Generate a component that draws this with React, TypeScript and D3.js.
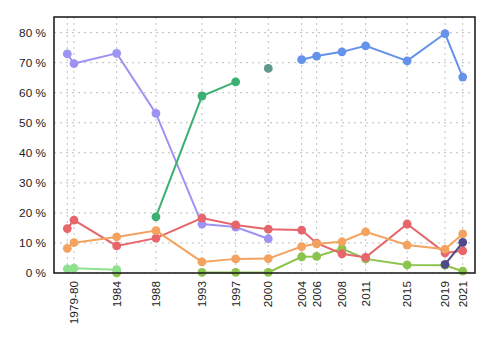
import React from "react";
import * as d3 from "d3";

// Election dates (decimal years) and their tick labels
const dates = [1979.23, 1979.94, 1984.5, 1988.69, 1993.6, 1997.2, 2000.68, 2004.24, 2005.84, 2008.54, 2011.07, 2015.5, 2019.54, 2021.43];
const tickLabels = ["", "1979-80", "1984", "1988", "1993", "1997", "2000", "2004", "2006", "2008", "2011", "2015", "2019", "2021"];

const yTicks = [0, 10, 20, 30, 40, 50, 60, 70, 80];

type V = number | null;
// Series values, aligned with dates (null = no value)
const purple: V[] = [72.9, 69.7, 73.1, 53.1, 16.3, 15.3, 11.4, null, null, null, null, null, null, null];
const green: V[] = [null, null, null, 18.7, 58.9, 63.6, null, null, null, null, null, null, null, null];
const teal: V[] = [null, null, null, null, null, null, 68.1, null, null, null, null, null, null, null];
const blue: V[] = [null, null, null, null, null, null, null, 71.0, 72.2, 73.6, 75.6, 70.6, 79.7, 65.2];
const red: V[] = [14.8, 17.6, 9.0, 11.6, 18.3, 16.0, 14.6, 14.3, 9.9, 6.4, 5.2, 16.3, 6.7, 7.4];
const orange: V[] = [8.2, 10.1, 12.0, 14.1, 3.7, 4.7, 4.8, 8.8, 9.7, 10.4, 13.7, 9.3, 7.9, 13.0];
const lightGreen: V[] = [1.4, 1.6, 1.1, null, null, null, null, null, null, null, null, null, null, null];
const yellowGreen: V[] = [null, null, 0, null, 0.2, 0.2, 0.2, 5.4, 5.5, 8.1, 4.7, 2.7, 2.6, 0.6];
const darkSlate: V[] = [null, null, null, null, null, null, null, null, null, null, null, null, 2.9, 10.2];

const series = [
  { values: purple, color: "#9d93f3" },
  { values: green, color: "#3cb073" },
  { values: teal, color: "#5f9a8e" },
  { values: blue, color: "#6592ea" },
  { values: yellowGreen, color: "#8cc34c" },
  { values: lightGreen, color: "#8fe08f" },
  { values: red, color: "#e6666b" },
  { values: orange, color: "#f3a35f" },
  { values: darkSlate, color: "#4f4a8a" },
];

const W = 500, H = 350;
const L = 54, R = 475, T = 17, B = 273;

export default function App() {
  const x = d3.scaleLinear().domain([1977.81, 2022.74]).range([L, R]);
  const y = d3.scaleLinear().domain([0, 85.2]).range([B, T]);
  const line = d3
    .line<[number, V]>()
    .defined((d) => d[1] !== null)
    .x((d) => x(d[0]))
    .y((d) => y(d[1] as number));

  const font = "'Liberation Sans', Arial, sans-serif";

  return (
    <svg width={W} height={H} style={{ position: "absolute", left: 0, top: 0, background: "#fff" }} fontFamily={font}>
      {/* grid */}
      {yTicks.map((t) => (
        <line key={"gy" + t} x1={L} x2={R} y1={y(t)} y2={y(t)} stroke="#bdbdbd" strokeWidth={1} strokeDasharray="2,4" />
      ))}
      {dates.map((d, i) => (
        <line key={"gx" + i} x1={x(d)} x2={x(d)} y1={T} y2={B} stroke="#bdbdbd" strokeWidth={1} strokeDasharray="2,4" />
      ))}
      {/* series */}
      {series.map((s, si) => {
        const pts: [number, V][] = dates.map((d, i) => [d, s.values[i]]);
        return (
          <g key={"s" + si}>
            <path d={line(pts) || ""} fill="none" stroke={s.color} strokeWidth={2} />
            {pts
              .filter((p) => p[1] !== null)
              .map((p, i) => (
                <circle key={i} cx={x(p[0])} cy={y(p[1] as number)} r={4.4} fill={s.color} />
              ))}
          </g>
        );
      })}
      {/* frame */}
      <rect x={L} y={T} width={R - L} height={B - T} fill="none" stroke="#222" strokeWidth={1.6} />
      {/* y labels */}
      {yTicks.map((t) => (
        <text key={"yl" + t} x={46} y={y(t)} dy="0.35em" textAnchor="end" fontSize={11.8} fill="#222">
          {t} %
        </text>
      ))}
      {/* x labels */}
      {dates.map((d, i) =>
        tickLabels[i] ? (
          <text
            key={"xl" + i}
            transform={`translate(${x(d)},${B + 8}) rotate(-90)`}
            dy="0.35em"
            textAnchor="end"
            fontSize={11.8}
            fill="#222"
          >
            {tickLabels[i]}
          </text>
        ) : null
      )}
    </svg>
  );
}
